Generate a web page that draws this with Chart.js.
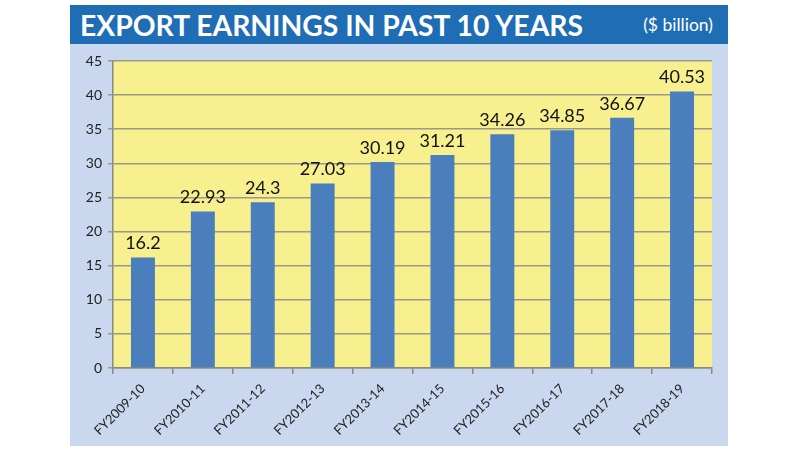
<!DOCTYPE html>
<html>
<head>
<meta charset="utf-8">
<script src="https://cdn.jsdelivr.net/npm/chart.js@4"></script>
<style>
    html, body { margin: 0; padding: 0; background: #ffffff; }
    #wrap { position: relative; width: 790px; height: 452px; }
    #titleBar {
        position: absolute; left: 70px; top: 5px; width: 658px; height: 39px;
        background: #1f6db5;
    }
    #title {
        position: absolute; left: 10px; top: 2px; white-space: nowrap;
        font-family: Lato, 'Open Sans', sans-serif;
        font-weight: bold; font-size: 29px; color: #ffffff;
        transform-origin: left center;
    }
    #unit {
        position: absolute; right: 15px; top: 9px;
        font-family: Lato, 'Open Sans', sans-serif; font-size: 17.5px; color: #ffffff;
    }
    #panel {
        position: absolute; left: 70px; top: 44px; width: 658px; height: 402px;
        background: #c9d8ee;
    }
</style>
</head>
<body>
<div id="wrap">
    <div id="titleBar">
        <span id="title">EXPORT EARNINGS IN PAST 10 YEARS</span>
        <span id="unit">($ billion)</span>
    </div>
    <div id="panel"><canvas id="exportChart" width="658" height="402"></canvas></div>
</div>
<script>
const years = ['FY2009-10', 'FY2010-11', 'FY2011-12', 'FY2012-13', 'FY2013-14',
               'FY2014-15', 'FY2015-16', 'FY2016-17', 'FY2017-18', 'FY2018-19'];
const earnings = [16.2, 22.93, 24.3, 27.03, 30.19, 31.21, 34.26, 34.85, 36.67, 40.53];
const yTicks = [0, 5, 10, 15, 20, 25, 30, 35, 40, 45];

document.addEventListener('DOMContentLoaded', function() {
    // squeeze the title to the width it has in the picture
    const title = document.getElementById('title');
    const w = title.getBoundingClientRect().width;
    title.style.transform = 'scaleX(' + (503 / w) + ')';

    // yellow plot background
    const plotBackground = {
        id: 'plotBackground',
        beforeDraw: function(chart) {
            const a = chart.chartArea;
            const ctx = chart.ctx;
            ctx.save();
            ctx.fillStyle = '#f8ef8f';
            ctx.fillRect(a.left, a.top, a.right - a.left, a.bottom - a.top);
            ctx.restore();
        }
    };

    // value labels above bars
    const valueLabels = {
        id: 'valueLabels',
        afterDatasetsDraw: function(chart) {
            const ctx = chart.ctx;
            const meta = chart.getDatasetMeta(0);
            ctx.save();
            ctx.fillStyle = '#111111';
            ctx.font = '18px Lato, "Open Sans", sans-serif';
            ctx.textAlign = 'center';
            ctx.textBaseline = 'bottom';
            meta.data.forEach(function(bar, i) {
                ctx.fillText(String(earnings[i]), bar.x, bar.y - 5);
            });
            ctx.restore();
        }
    };

    const ctx = document.getElementById('exportChart');
    new Chart(ctx.getContext('2d'), {
        type: 'bar',
        data: {
            labels: years,
            datasets: [{
                label: 'Export earnings',
                data: earnings,
                backgroundColor: '#4a7ebd',
                categoryPercentage: 1,
                barPercentage: 0.4
            }]
        },
        options: {
            responsive: false,
            animation: false,
            layout: { padding: { left: 0, right: 16, top: 17, bottom: 0 } },
            plugins: {
                legend: { display: false },
                tooltip: { enabled: false }
            },
            scales: {
                y: {
                    min: 0,
                    max: 45,
                    afterBuildTicks: function(axis) {
                        axis.ticks = yTicks.map(function(v) { return { value: v }; });
                    },
                    afterFit: function(axis) { axis.width = 43; },
                    ticks: {
                        color: '#222222',
                        padding: 6,
                        font: { family: 'Lato, "Open Sans", sans-serif', size: 14 }
                    },
                    grid: {
                        color: '#9a9a88',
                        lineWidth: 1.5,
                        tickLength: 5
                    },
                    border: { color: '#8a8a80', width: 1.5 }
                },
                x: {
                    afterFit: function(axis) { axis.height = 78; },
                    ticks: {
                        color: '#222222',
                        maxRotation: 45,
                        minRotation: 45,
                        padding: 7,
                        font: { family: 'Lato, "Open Sans", sans-serif', size: 13 }
                    },
                    grid: {
                        offset: true,
                        drawOnChartArea: false,
                        color: '#8a8a80',
                        lineWidth: 1.5,
                        tickLength: 6
                    },
                    border: { color: '#8a8a80', width: 1.5 }
                }
            }
        },
        plugins: [plotBackground, valueLabels]
    });
});
</script>
</body>
</html>
